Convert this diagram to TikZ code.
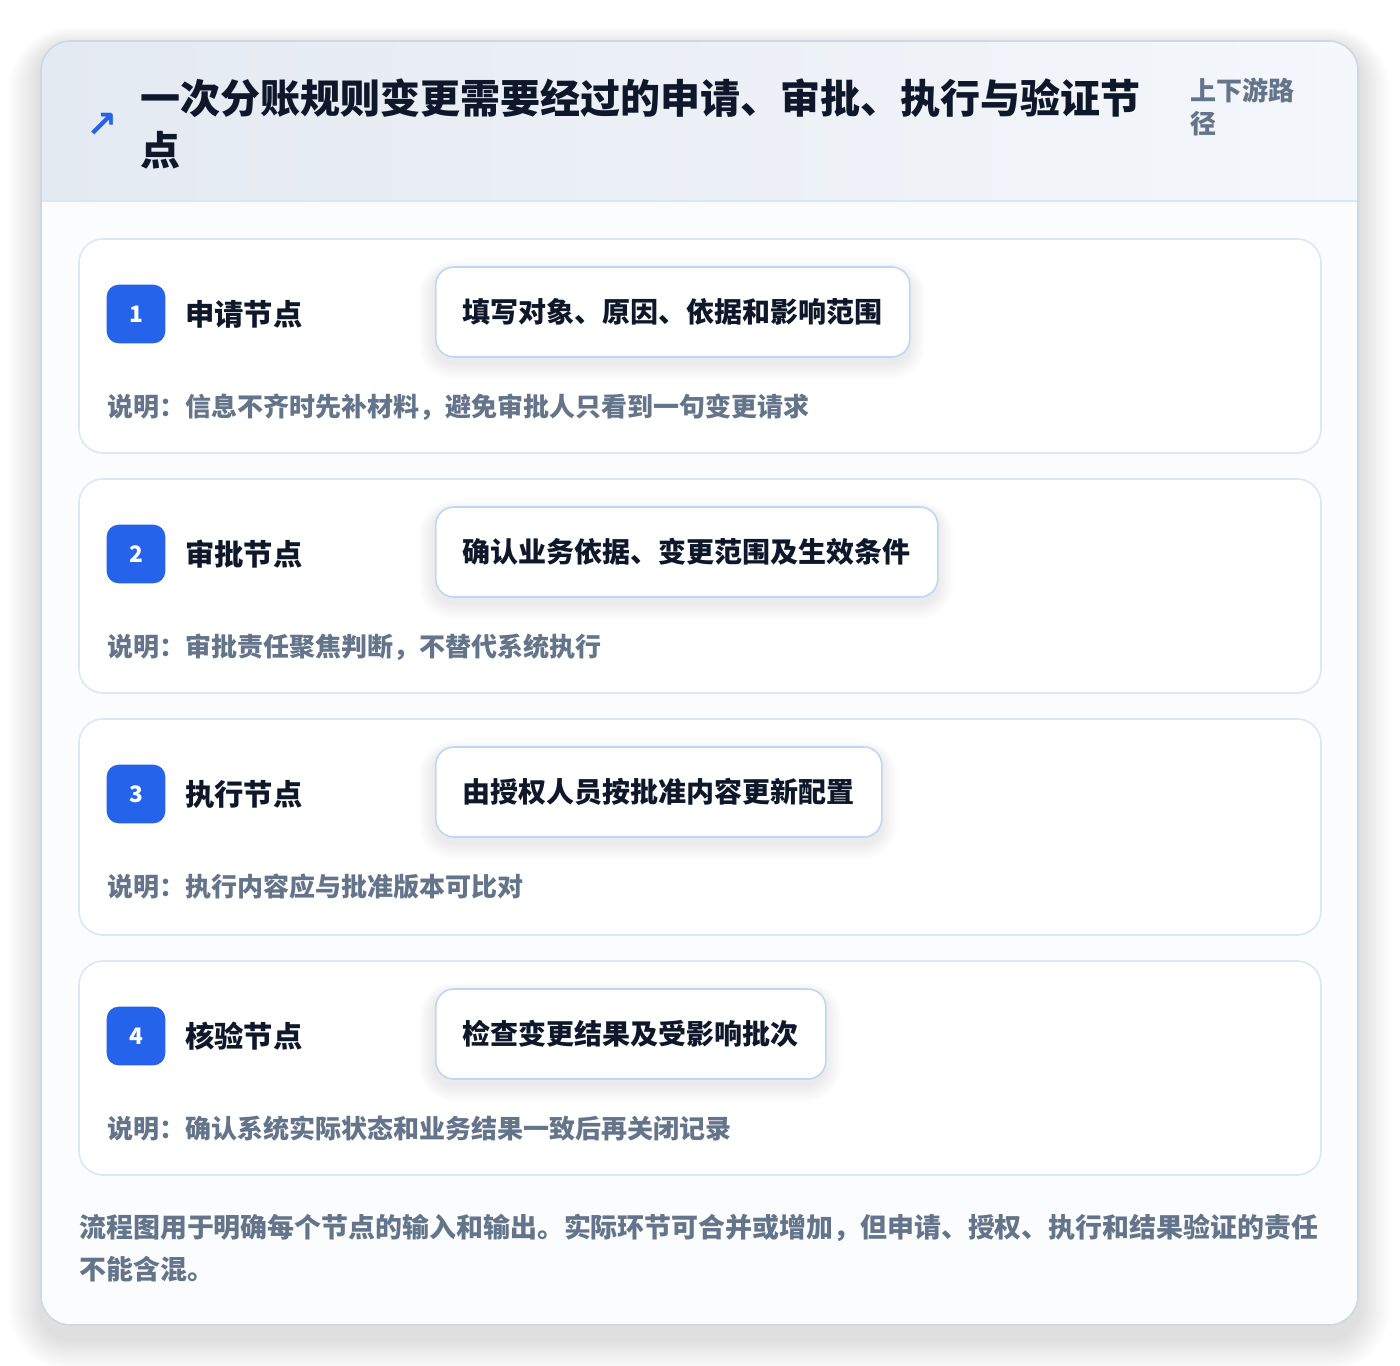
\documentclass[tikz,border=0pt]{standalone}
\usepackage{fontspec}
\setmainfont{Noto Sans CJK SC}
\newfontfamily\symfont{DejaVu Sans}
\definecolor{hdrL}{HTML}{E4EAF2}
\definecolor{hdrR}{HTML}{F4F7FB}
\definecolor{hdrline}{HTML}{DCE6F2}
\definecolor{outerborder}{HTML}{CFD7E3}
\definecolor{bodyfill}{HTML}{FBFCFE}
\definecolor{cardborder}{HTML}{DBE7F5}
\definecolor{boxborder}{HTML}{BFD7F5}
\definecolor{badgeblue}{HTML}{2563EB}
\definecolor{ink}{HTML}{0F172A}
\definecolor{muted}{HTML}{64748B}
\definecolor{shadowc}{HTML}{1E293B}
\tikzset{
  stepcard/.style={draw=cardborder, line width=1.2pt, fill=white, rounded corners=18pt},
  badgebox/.style={fill=badgeblue, rounded corners=9pt, minimum width=44pt, minimum height=44pt, inner sep=0pt, text=white, font=\bfseries\fontsize{17}{19}\selectfont},
  steptitle/.style={anchor=west, inner sep=0pt, text=ink, font=\bfseries\fontsize{22}{26}\selectfont},
  actionbox/.style={anchor=west, draw=boxborder, line width=1.2pt, fill=white, rounded corners=13.5pt, minimum height=67.5pt, inner xsep=20.25pt, inner ysep=0pt, text=ink, font=\bfseries\fontsize{21}{25}\selectfont},
  desctext/.style={anchor=west, inner sep=0pt, text=muted, font=\bfseries\fontsize{19.5}{23}\selectfont},
}
\begin{document}
\begin{tikzpicture}[x=0.75pt,y=-0.75pt]
\useasboundingbox (0,0) rectangle (1400,1366);
\fill[white] (0,0) rectangle (1400,1366);
% soft shadow of outer card
\foreach \k in {1,...,16}{
  \fill[shadowc, opacity=0.006, rounded corners=22pt+1.5*\k pt]
    (41-2*\k,41+6-1.2*\k) rectangle (1358+2*\k,1325+14+2*\k);
}
% outer card
\fill[bodyfill, rounded corners=22pt] (41,41) rectangle (1358,1325);
\begin{scope}
  \clip[rounded corners=22pt] (41,41) rectangle (1358,1325);
  \shade[left color=hdrL, right color=hdrR] (41,41) rectangle (1358,201);
\end{scope}
\draw[hdrline, line width=1.2pt] (41,201) -- (1358,201);
\draw[outerborder, line width=1.2pt, rounded corners=22pt] (41,41) rectangle (1358,1325);

% header
\node[anchor=center, inner sep=0pt, text=badgeblue, font=\symfont\bfseries\fontsize{28}{30}\selectfont] (icon) at (102,125) {↗};
\node[anchor=west, inner sep=0pt, align=left, text=ink, font=\bfseries\fontsize{30}{39}\selectfont] (title) at (140,124) {一次分账规则变更需要经过的申请、审批、执行与验证节\\点};
\node[anchor=west, inner sep=0pt, align=left, text=muted, font=\bfseries\fontsize{19.5}{24.75}\selectfont] (side) at (1190,106.5) {上下游路\\径};

% steps
\foreach \i/\T/\H/\W/\name/\act/\desc in {
  1/239/214/909/申请节点/填写对象、原因、依据和影响范围/说明：信息不齐时先补材料，避免审批人只看到一句变更请求,
  2/479/214/937/审批节点/确认业务依据、变更范围及生效条件/说明：审批责任聚焦判断，不替代系统执行,
  3/719/216/881/执行节点/由授权人员按批准内容更新配置/说明：执行内容应与批准版本可比对,
  4/961/214/825/核验节点/检查变更结果及受影响批次/说明：确认系统实际状态和业务结果一致后再关闭记录}{
  \draw[stepcard] (79,\T) rectangle (1321,\T+\H);
  \foreach \k in {1,...,10}{
    \fill[shadowc, opacity=0.006, rounded corners=13.5pt+1.2*\k pt]
      (435-1.6*\k,\T+28+4-1*\k) rectangle (\W+1.6*\k,\T+118+6+1.6*\k);
  }
  \node[badgebox] (badge\i) at (136,\T+75) {\i};
  \node[steptitle] (title\i) at (185,\T+75) {\name};
  \node[actionbox] (box\i) at (435,\T+73) {\act};
  \node[desctext] (desc\i) at (107,\T+168) {\desc};
}

% footer
\node[anchor=west, inner sep=0pt, align=left, text=muted, font=\bfseries\fontsize{20.2}{31.5}\selectfont] (footer) at (79,1248) {流程图用于明确每个节点的输入和输出。实际环节可合并或增加，但申请、授权、执行和结果验证的责任\\不能含混。};
\end{tikzpicture}
\end{document}
